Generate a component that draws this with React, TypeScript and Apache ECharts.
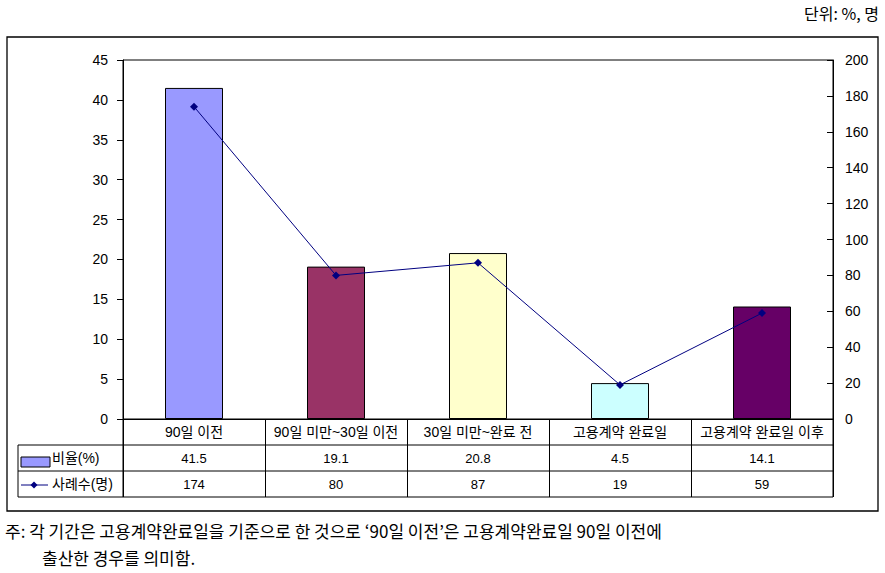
import React, { useEffect, useRef } from "react";
import * as echarts from "echarts";

const categories = ["90일 이전", "90일 미만~30일 이전", "30일 미만~완료 전", "고용계약 완료일", "고용계약 완료일 이후"];
const ratioValues = [41.5, 19.1, 20.8, 4.5, 14.1];
const caseValues = [174, 80, 87, 19, 59];
const barColors = ["#9999FF", "#993366", "#FFFFCC", "#CCFFFF", "#660066"];
const ratioName = "비율(%)";
const caseName = "사례수(명)";
const unitText = "단위: %, 명";
const note1 = "주: 각 기간은 고용계약완료일을 기준으로 한 것으로 ‘90일 이전’은 고용계약완료일 90일 이전에";
const note2 = "출산한 경우를 의미함.";

const FONT = "'Liberation Sans', Arial, 'Noto Sans CJK KR', sans-serif";
const KFONT = "'Noto Sans CJK KR', sans-serif";

export default function App() {
  const ref = useRef<HTMLDivElement>(null);
  useEffect(() => {
    if (!ref.current) return;
    const chart = echarts.init(ref.current, null, { renderer: "svg" });
    const gridLeft = 123, gridTop = 60, gridRight = 52, gridBottom = 154;
    const W = 885, H = 573;
    const plotBottom = H - gridBottom;
    const plotRight = W - gridRight;
    const rowH = 26;
    const option: any = {
      animation: false,
      backgroundColor: "#ffffff",
      textStyle: { fontFamily: FONT },
      grid: { left: gridLeft, top: gridTop, right: gridRight, bottom: gridBottom, show: true, borderColor: "#000", borderWidth: 1, backgroundColor: "transparent" },
      xAxis: {
        type: "category",
        data: categories,
        boundaryGap: true,
        axisLine: { show: true, lineStyle: { color: "#000", width: 1 } },
        axisTick: { show: true, length: rowH * 3, alignWithLabel: false, lineStyle: { color: "#000" } },
        axisLabel: { color: "#000", fontSize: 14, margin: 6, fontFamily: FONT, interval: 0 },
        splitLine: { show: false },
      },
      yAxis: [
        {
          type: "value", min: 0, max: 45, interval: 5,
          axisLine: { show: true, lineStyle: { color: "#000" } },
          axisTick: { show: true, length: 6, lineStyle: { color: "#000" } },
          axisLabel: { color: "#000", fontSize: 14, margin: 15, fontFamily: FONT },
          splitLine: { show: false },
        },
        {
          type: "value", min: 0, max: 200, interval: 20, position: "right",
          axisLine: { show: true, lineStyle: { color: "#000" } },
          axisTick: { show: true, inside: true, length: 6, lineStyle: { color: "#000" } },
          axisLabel: { color: "#000", fontSize: 14, margin: 12, fontFamily: FONT },
          splitLine: { show: false },
        },
      ],
      series: [
        {
          name: ratioName, type: "bar", yAxisIndex: 0, barWidth: 58,
          data: ratioValues.map((v, i) => ({ value: v, itemStyle: { color: barColors[i], borderColor: "#000", borderWidth: 1 } })),
        },
        {
          name: caseName, type: "line", yAxisIndex: 1, data: caseValues,
          symbol: "diamond", symbolSize: 8,
          lineStyle: { color: "#000080", width: 1 },
          itemStyle: { color: "#000080" },
          z: 5,
        },
      ],
    };
    chart.setOption(option);

    const xs = categories.map((_, i) => chart.convertToPixel({ xAxisIndex: 0 }, i) as number);
    const legendLeft = 18;
    const r1 = plotBottom + rowH, r2 = plotBottom + rowH * 2, r3 = plotBottom + rowH * 3;
    const lineStyle = { stroke: "#000", lineWidth: 1 };
    const g: any[] = [
      { type: "rect", shape: { x: 7, y: 37, width: 871, height: 474 }, style: { fill: "none", stroke: "#000", lineWidth: 1.3 }, silent: true },
      { type: "line", shape: { x1: legendLeft, y1: r1, x2: plotRight, y2: r1 }, style: lineStyle },
      { type: "line", shape: { x1: legendLeft, y1: r2, x2: plotRight, y2: r2 }, style: lineStyle },
      { type: "line", shape: { x1: legendLeft, y1: r3, x2: plotRight, y2: r3 }, style: lineStyle },
      { type: "line", shape: { x1: legendLeft, y1: r1, x2: legendLeft, y2: r3 }, style: lineStyle },
      { type: "line", shape: { x1: gridLeft, y1: plotBottom, x2: gridLeft, y2: r3 }, style: lineStyle },
      { type: "line", shape: { x1: plotRight, y1: plotBottom, x2: plotRight, y2: r3 }, style: lineStyle },
      // legend keys
      { type: "rect", shape: { x: 21, y: r1 + 12, width: 29, height: 10 }, style: { fill: barColors[0], stroke: "#000", lineWidth: 1 } },
      { type: "text", x: 52, y: r1 + rowH / 2, style: { text: ratioName, font: `14px ${FONT}`, fill: "#000", verticalAlign: "middle", align: "left" } },
      { type: "line", shape: { x1: 21, y1: r2 + 14, x2: 48, y2: r2 + 14 }, style: { stroke: "#000080", lineWidth: 1 } },
      { type: "polygon", shape: { points: [[34, r2 + 10.5], [37.5, r2 + 14], [34, r2 + 17.5], [30.5, r2 + 14]] }, style: { fill: "#000080" } },
      { type: "text", x: 52, y: r2 + rowH / 2, style: { text: caseName, font: `14px ${FONT}`, fill: "#000", verticalAlign: "middle", align: "left" } },
      // unit + notes
      { type: "text", x: 879, y: 13, style: { text: unitText, font: `16px ${KFONT}`, fill: "#000", align: "right", verticalAlign: "middle" } },
      { type: "text", x: 5, y: 530, style: { text: note1, font: `17px ${KFONT}`, fill: "#000", align: "left", verticalAlign: "middle" } },
      { type: "text", x: 42, y: 557, style: { text: note2, font: `17px ${KFONT}`, fill: "#000", align: "left", verticalAlign: "middle" } },
    ];
    xs.forEach((x, i) => {
      g.push({ type: "text", x, y: r1 + rowH / 2, style: { text: ratioValues[i].toFixed(1), font: `13px ${FONT}`, fill: "#000", align: "center", verticalAlign: "middle" } });
      g.push({ type: "text", x, y: r2 + rowH / 2, style: { text: String(caseValues[i]), font: `13px ${FONT}`, fill: "#000", align: "center", verticalAlign: "middle" } });
    });
    chart.setOption({ graphic: g });
    return () => chart.dispose();
  }, []);
  return <div ref={ref} style={{ position: "fixed", left: 0, top: 0, width: 885, height: 573 }} />;
}
